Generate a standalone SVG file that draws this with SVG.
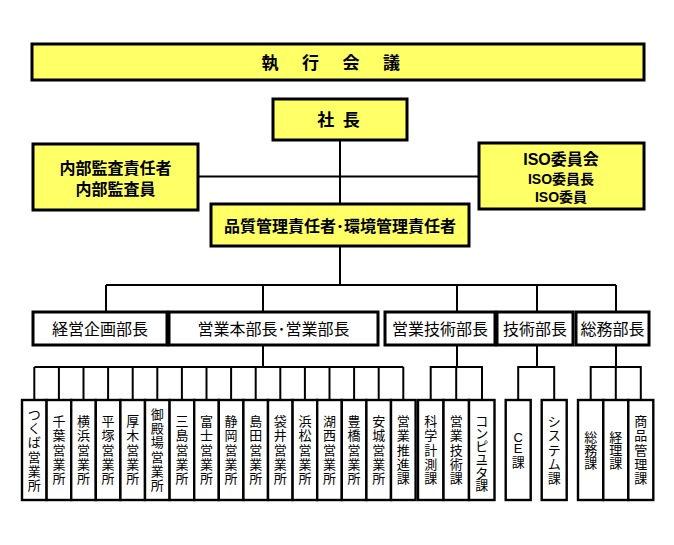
<svg xmlns="http://www.w3.org/2000/svg" width="674" height="545" viewBox="0 0 674 545">
<style>
text{font-family:"Liberation Sans","Noto Sans CJK JP",sans-serif;text-anchor:middle;dominant-baseline:central;fill:#000}
.y{fill:#ffff66;stroke:#000;stroke-width:3}
.d{fill:#fff;stroke:#000;stroke-width:3}
.s{fill:#fff;stroke:#000;stroke-width:2.4}
.b{font-weight:bold}
.c line,.c polyline{stroke:#000;stroke-width:2;fill:none}
.v{font-size:13px}
</style>
<rect width="674" height="545" fill="#fff"/>
<g class="c" id="connectors">
<line x1="340" y1="140" x2="340" y2="204"/>
<line x1="198" y1="176.5" x2="479" y2="176.5"/>
<line x1="340" y1="246" x2="340" y2="285"/>
<line x1="106" y1="285" x2="616" y2="285"/>
<line x1="106" y1="285" x2="106" y2="312"/>
<line x1="263" y1="285" x2="263" y2="312"/>
<line x1="457" y1="285" x2="457" y2="312"/>
<line x1="537" y1="285" x2="537" y2="312"/>
<line x1="616" y1="285" x2="616" y2="312"/>
<line x1="263" y1="345" x2="263" y2="367"/>
<line x1="34.3" y1="367" x2="403.3" y2="367"/>
<line x1="34.3" y1="367" x2="34.3" y2="400"/>
<line x1="58.9" y1="367" x2="58.9" y2="400"/>
<line x1="83.5" y1="367" x2="83.5" y2="400"/>
<line x1="108.1" y1="367" x2="108.1" y2="400"/>
<line x1="132.7" y1="367" x2="132.7" y2="400"/>
<line x1="157.3" y1="367" x2="157.3" y2="400"/>
<line x1="181.9" y1="367" x2="181.9" y2="400"/>
<line x1="206.5" y1="367" x2="206.5" y2="400"/>
<line x1="231.1" y1="367" x2="231.1" y2="400"/>
<line x1="255.7" y1="367" x2="255.7" y2="400"/>
<line x1="280.3" y1="367" x2="280.3" y2="400"/>
<line x1="304.9" y1="367" x2="304.9" y2="400"/>
<line x1="329.5" y1="367" x2="329.5" y2="400"/>
<line x1="354.1" y1="367" x2="354.1" y2="400"/>
<line x1="378.7" y1="367" x2="378.7" y2="400"/>
<line x1="403.3" y1="367" x2="403.3" y2="400"/>
<line x1="457" y1="345" x2="457" y2="367"/>
<polyline points="430.7,400 430.7,367 482,367 482,400"/>
<line x1="456.2" y1="367" x2="456.2" y2="400"/>
<line x1="537" y1="345" x2="537" y2="367"/>
<polyline points="518.2,400 518.2,367 554.2,367 554.2,400"/>
<line x1="616" y1="345" x2="616" y2="367"/>
<polyline points="590.7,400 590.7,367 640.8,367 640.8,400"/>
<line x1="615.8" y1="367" x2="615.8" y2="400"/>
</g>
<g id="n-shikko">
<rect class="y" x="32" y="44" width="612" height="36"/>
<text class="b" font-size="17" x="270 290 310.5 331 351 371 391.5" y="63">執 行 会 議</text>
</g>
<g id="n-shacho">
<rect class="y" x="273" y="99" width="134" height="41"/>
<text class="b" font-size="17" x="339.5" y="120" letter-spacing="2">社 長</text>
</g>
<g id="n-naibu">
<rect class="y" x="33" y="144" width="165" height="66"/>
<text class="b" font-size="16" x="115.5" y="168">内部監査責任者</text>
<text class="b" font-size="16" x="115.5" y="189">内部監査員</text>
</g>
<g id="n-iso">
<rect class="y" x="479" y="143" width="165" height="66"/>
<text class="b" font-size="16" x="561" y="159">ISO委員会</text>
<text class="b" font-size="14" x="561" y="179">ISO委員長</text>
<text class="b" font-size="14" x="561" y="197">ISO委員</text>
</g>
<g id="n-hinshitsu">
<rect class="y" x="211" y="204" width="258" height="42"/>
<text class="b" font-size="16" x="340" y="226">品質管理責任者･環境管理責任者</text>
</g>
<g id="n-keiei">
<rect class="d" x="33" y="312" width="134" height="33"/>
<text font-size="16" x="100" y="329">経営企画部長</text>
</g>
<g id="n-eigyohonbu">
<rect class="d" x="169" y="312" width="209" height="33"/>
<text font-size="16" x="273.5" y="329">営業本部長･営業部長</text>
</g>
<g id="n-eigyogijutsu">
<rect class="d" x="385" y="312" width="110" height="33"/>
<text font-size="16" x="440" y="329">営業技術部長</text>
</g>
<g id="n-gijutsu">
<rect class="d" x="497" y="312" width="76" height="33"/>
<text font-size="16" x="535" y="329">技術部長</text>
</g>
<g id="n-somu">
<rect class="d" x="576" y="312" width="73" height="33"/>
<text font-size="16" x="612.5" y="329">総務部長</text>
</g>
<g id="n-tsukuba"><rect class="s" x="22" y="400" width="24.6" height="100"/><text class="v" x="34.3 34.3 34.3 34.3 34.3 34.3" y="414.3 428.6 442.9 457.1 471.4 485.7">つくば営業所</text></g>
<g id="n-chiba"><rect class="s" x="46.6" y="400" width="24.6" height="100"/><text class="v" x="58.9 58.9 58.9 58.9 58.9" y="421.4 435.7 450 464.3 478.6">千葉営業所</text></g>
<g id="n-yokohama"><rect class="s" x="71.2" y="400" width="24.6" height="100"/><text class="v" x="83.5 83.5 83.5 83.5 83.5" y="421.4 435.7 450 464.3 478.6">横浜営業所</text></g>
<g id="n-hiratsuka"><rect class="s" x="95.8" y="400" width="24.6" height="100"/><text class="v" x="108.1 108.1 108.1 108.1 108.1" y="421.4 435.7 450 464.3 478.6">平塚営業所</text></g>
<g id="n-atsugi"><rect class="s" x="120.4" y="400" width="24.6" height="100"/><text class="v" x="132.7 132.7 132.7 132.7 132.7" y="421.4 435.7 450 464.3 478.6">厚木営業所</text></g>
<g id="n-gotemba"><rect class="s" x="145" y="400" width="24.6" height="100"/><text class="v" x="157.3 157.3 157.3 157.3 157.3 157.3" y="414.3 428.6 442.9 457.1 471.4 485.7">御殿場営業所</text></g>
<g id="n-mishima"><rect class="s" x="169.6" y="400" width="24.6" height="100"/><text class="v" x="181.9 181.9 181.9 181.9 181.9" y="421.4 435.7 450 464.3 478.6">三島営業所</text></g>
<g id="n-fuji"><rect class="s" x="194.2" y="400" width="24.6" height="100"/><text class="v" x="206.5 206.5 206.5 206.5 206.5" y="421.4 435.7 450 464.3 478.6">富士営業所</text></g>
<g id="n-shizuoka"><rect class="s" x="218.8" y="400" width="24.6" height="100"/><text class="v" x="231.1 231.1 231.1 231.1 231.1" y="421.4 435.7 450 464.3 478.6">静岡営業所</text></g>
<g id="n-shimada"><rect class="s" x="243.4" y="400" width="24.6" height="100"/><text class="v" x="255.7 255.7 255.7 255.7 255.7" y="421.4 435.7 450 464.3 478.6">島田営業所</text></g>
<g id="n-fukuroi"><rect class="s" x="268" y="400" width="24.6" height="100"/><text class="v" x="280.3 280.3 280.3 280.3 280.3" y="421.4 435.7 450 464.3 478.6">袋井営業所</text></g>
<g id="n-hamamatsu"><rect class="s" x="292.6" y="400" width="24.6" height="100"/><text class="v" x="304.9 304.9 304.9 304.9 304.9" y="421.4 435.7 450 464.3 478.6">浜松営業所</text></g>
<g id="n-kosai"><rect class="s" x="317.2" y="400" width="24.6" height="100"/><text class="v" x="329.5 329.5 329.5 329.5 329.5" y="421.4 435.7 450 464.3 478.6">湖西営業所</text></g>
<g id="n-toyohashi"><rect class="s" x="341.8" y="400" width="24.6" height="100"/><text class="v" x="354.1 354.1 354.1 354.1 354.1" y="421.4 435.7 450 464.3 478.6">豊橋営業所</text></g>
<g id="n-anjo"><rect class="s" x="366.4" y="400" width="24.6" height="100"/><text class="v" x="378.7 378.7 378.7 378.7 378.7" y="421.4 435.7 450 464.3 478.6">安城営業所</text></g>
<g id="n-suishin"><rect class="s" x="391" y="400" width="24.6" height="100"/><text class="v" x="403.3 403.3 403.3 403.3 403.3" y="421.4 435.7 450 464.3 478.6">営業推進課</text></g>
<g id="n-kagaku"><rect class="s" x="418" y="400" width="25.5" height="100"/><text class="v" x="430.7 430.7 430.7 430.7 430.7" y="421.4 435.7 450 464.3 478.6">科学計測課</text></g>
<g id="n-eigyogijutsuka"><rect class="s" x="443.5" y="400" width="25.5" height="100"/><text class="v" x="456.2 456.2 456.2 456.2 456.2" y="421.4 435.7 450 464.3 478.6">営業技術課</text></g>
<g id="n-computer"><rect class="s" x="469" y="400" width="25.5" height="100"/><text class="v" x="481.7 481.7 481.7 481.7 481.7 481.7 481.7" y="421 433.5 446 456 464 473 485">コンピュータ課</text></g>
<g id="n-ce"><rect class="s" x="505.7" y="400" width="25" height="100"/><text class="v" x="518.2 518.2 518.2" y="437.5 448 462">CE課</text></g>
<g id="n-system"><rect class="s" x="541.7" y="400" width="25" height="100"/><text class="v" x="554.2 554.2 554.2 554.2 554.2" y="421.4 435.7 450 464.3 478.6">システム課</text></g>
<g id="n-somuka"><rect class="s" x="578" y="400" width="25.3" height="100"/><text class="v" x="590.7 590.7 590.7" y="437 450 463">総務課</text></g>
<g id="n-keiri"><rect class="s" x="603.3" y="400" width="25" height="100"/><text class="v" x="615.8 615.8 615.8" y="437 450 463">経理課</text></g>
<g id="n-shohin"><rect class="s" x="628.3" y="400" width="25" height="100"/><text class="v" x="640.8 640.8 640.8 640.8 640.8" y="421.4 435.7 450 464.3 478.6">商品管理課</text></g>
</svg>
